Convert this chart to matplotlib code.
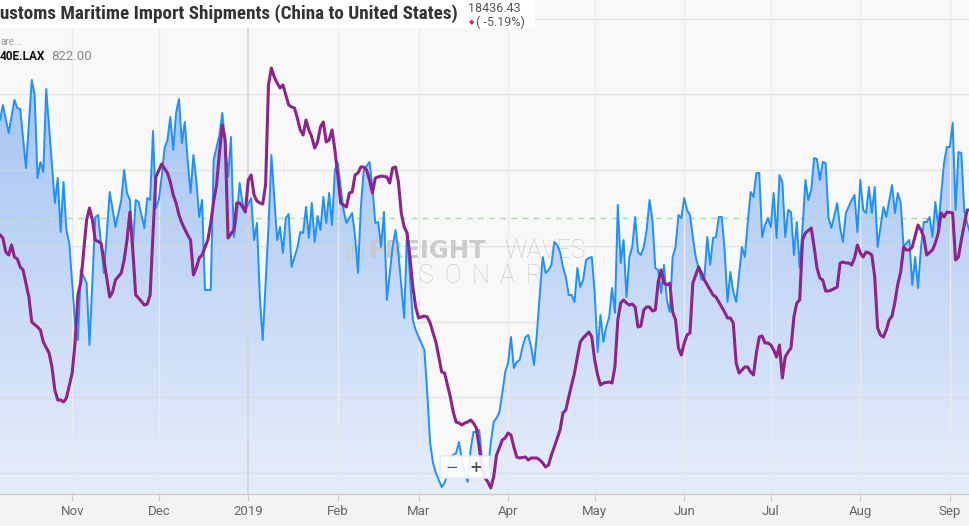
import numpy as np
import pandas as pd
import matplotlib
matplotlib.use("Agg")
import matplotlib.pyplot as plt
import matplotlib.dates as mdates
from matplotlib.colors import to_rgba
from matplotlib.patches import Rectangle, FancyBboxPatch

# dias contados desde el 7 de octubre de 2018
inicio = pd.Timestamp("2018-10-07")

# envios maritimos China -> EEUU (serie azul, diaria)
azul_dias = [
    0, 1, 3, 5, 6, 7, 9, 11, 12, 13,
    14, 15, 16, 17, 19, 20, 21, 22, 23, 24,
    26, 27, 28, 30, 31, 33, 34, 36, 38, 40,
    42, 43, 44, 45, 46, 47, 48, 50, 51, 52,
    53, 54, 55, 56, 57, 58, 59, 60, 61, 62,
    63, 64, 65, 66, 67, 68, 69, 70, 71, 73,
    74, 76, 77, 78, 79, 80, 81, 82, 83, 84,
    85, 87, 88, 89, 90, 91, 93, 94, 96, 97,
    98, 99, 100, 101, 102, 103, 104, 105, 106, 107,
    108, 109, 110, 111, 112, 113, 114, 115, 116, 117,
    118, 119, 120, 122, 123, 124, 125, 126, 128, 129,
    130, 131, 132, 133, 134, 136, 137, 138, 140, 141,
    143, 144, 145, 147, 148, 149, 150, 151, 153, 154,
    155, 156, 157, 158, 159, 160, 161, 162, 163, 164,
    165, 166, 167, 168, 169, 170, 171, 172, 173, 174,
    175, 176, 177, 178, 179, 180, 181, 182, 183, 184,
    185, 186, 187, 188, 189, 190, 191, 192, 193, 194,
    195, 196, 197, 198, 199, 200, 201, 202, 203, 204,
    205, 206, 207, 208, 209, 210, 211, 212, 213, 214,
    215, 216, 217, 218, 219, 220, 221, 222, 223, 224,
    225, 226, 227, 228, 229, 230, 231, 232, 233, 234,
    235, 236, 237, 238, 239, 240, 241, 242, 243, 244,
    245, 246, 247, 248, 249, 250, 251, 252, 253, 254,
    255, 257, 258, 259, 260, 261, 262, 263, 264, 265,
    266, 267, 268, 269, 270, 271, 272, 273, 274, 275,
    276, 277, 278, 279, 280, 281, 282, 283, 284, 285,
    286, 287, 288, 290, 291, 292, 293, 295, 296, 297,
    298, 299, 300, 301, 302, 303, 304, 306, 307, 309,
    310, 311, 312, 313, 314, 315, 316, 317, 318, 319,
    320, 321, 322, 323, 324, 325, 327, 328, 329, 330,
    331, 332, 333, 334, 335, 336,
]
azul_valores = [
    22960, 23560, 22440, 23760, 23440, 23400, 21040, 24560, 23960, 20640,
    21280, 20880, 24200, 22680, 19640, 20640, 18480, 20480, 18560, 18040,
    14840, 14160, 16960, 16440, 13960, 19080, 19160, 16840, 20080, 18680,
    19760, 20960, 20040, 19760, 17880, 19760, 19680, 18640, 19840, 19760,
    22520, 19440, 19760, 20680, 21840, 22160, 23080, 21760, 23240, 23800,
    22040, 22880, 21360, 20040, 21560, 20560, 19080, 19760, 16160, 16160,
    21360, 22360, 23240, 22040, 20680, 22280, 18280, 19080, 20440, 19640,
    19360, 19840, 18160, 18840, 15880, 14160, 18680, 21560, 18160, 18680,
    17640, 19040, 19200, 17080, 17480, 17840, 18480, 18440, 19480, 18240,
    19640, 18080, 19120, 18560, 19880, 18840, 20040, 18760, 20960, 21240,
    20280, 19360, 18840, 19240, 18280, 16840, 19480, 20960, 21280, 20280,
    18840, 18880, 17880, 19280, 15760, 17880, 18560, 17640, 15040, 18480,
    14960, 14560, 14280, 13760, 12040, 10040, 9240, 8840, 8280, 8440,
    8840, 9480, 9560, 9640, 10080, 9360, 8840, 8480, 9760, 10480,
    10480, 10560, 9360, 8840, 8960, 10040, 10880, 11040, 11280, 12040,
    12880, 13240, 14280, 13040, 13280, 13360, 13880, 14280, 14360, 13880,
    13160, 14440, 16040, 17480, 16840, 16960, 17160, 18080, 17960, 17680,
    17080, 16680, 15960, 15960, 15680, 17040, 16280, 16560, 17360, 17440,
    17480, 16040, 13680, 15160, 14080, 14680, 15080, 16240, 15240, 19560,
    17240, 18160, 15880, 17480, 17880, 19080, 17680, 17560, 17880, 18560,
    19760, 18960, 17040, 16960, 16040, 17160, 15760, 15280, 17480, 17880,
    19160, 19040, 19840, 19360, 19160, 18280, 17480, 17040, 16560, 16680,
    18280, 17160, 18240, 18280, 19080, 19080, 17760, 15680, 16880, 16080,
    15680, 17880, 17480, 18840, 20080, 19880, 20840, 20840, 18280, 18760,
    19040, 18680, 20040, 18240, 20760, 20480, 18280, 19360, 19280, 17560,
    18880, 17040, 18680, 20560, 19760, 20160, 21440, 21400, 20560, 21280,
    21240, 19040, 18640, 19640, 18640, 18080, 19240, 19760, 19960, 18480,
    20560, 19360, 19240, 20280, 19240, 20280, 17880, 19480, 19080, 20360,
    19240, 20040, 19640, 17880, 18040, 18160, 16360, 17480, 16240, 17840,
    18880, 18880, 19080, 18280, 19680, 18680, 21240, 21880, 21880, 22840,
    19360, 21680, 21640, 19360, 18840, 18440,
]

# indice 40E.LAX (serie morada)
morado_dias = [
    0, 1, 2, 3, 4, 5, 6, 7, 8, 10,
    11, 13, 14, 15, 17, 18, 19, 20, 21, 22,
    23, 25, 26, 27, 28, 30, 31, 32, 33, 35,
    36, 38, 39, 40, 42, 43, 44, 45, 46, 47,
    48, 50, 51, 52, 53, 54, 56, 58, 59, 60,
    61, 62, 63, 65, 66, 67, 68, 69, 70, 72,
    73, 74, 75, 76, 77, 78, 79, 81, 82, 83,
    84, 85, 86, 87, 88, 89, 90, 91, 92, 93,
    94, 95, 96, 97, 98, 100, 101, 102, 103, 104,
    105, 106, 107, 108, 109, 110, 111, 112, 113, 114,
    115, 116, 117, 118, 119, 120, 121, 122, 123, 124,
    125, 126, 127, 128, 129, 130, 132, 134, 135, 136,
    137, 138, 139, 140, 141, 142, 143, 144, 145, 146,
    147, 148, 149, 150, 151, 152, 153, 154, 155, 156,
    157, 158, 159, 160, 161, 162, 163, 164, 165, 166,
    167, 168, 169, 170, 171, 172, 174, 175, 176, 177,
    178, 179, 180, 182, 183, 184, 186, 187, 188, 189,
    190, 191, 192, 194, 195, 196, 197, 198, 199, 200,
    201, 202, 203, 204, 205, 206, 207, 208, 209, 211,
    212, 213, 214, 215, 216, 217, 218, 219, 220, 221,
    222, 223, 224, 225, 226, 227, 228, 229, 230, 231,
    232, 233, 234, 235, 236, 237, 238, 239, 240, 241,
    242, 243, 244, 245, 246, 247, 248, 249, 251, 252,
    253, 254, 255, 256, 258, 259, 260, 261, 262, 263,
    264, 265, 266, 267, 268, 269, 270, 271, 272, 273,
    274, 275, 276, 277, 278, 279, 281, 282, 283, 284,
    285, 286, 287, 288, 290, 291, 292, 293, 294, 295,
    296, 297, 298, 299, 300, 301, 302, 303, 304, 305,
    306, 307, 308, 309, 310, 311, 312, 313, 314, 315,
    316, 318, 319, 320, 321, 323, 324, 325, 326, 327,
    328, 330, 331, 332, 333, 335, 336,
]
morado_valores = [
    797, 794, 780, 777, 787, 775, 773, 765, 762, 735,
    710, 705, 702, 690, 679, 665, 642, 632, 632, 630,
    634, 659, 689, 737, 750, 812, 824, 812, 792, 789,
    772, 735, 740, 752, 759, 772, 792, 820, 782, 737,
    734, 727, 728, 737, 799, 855, 868, 859, 850, 837,
    829, 817, 809, 797, 792, 757, 764, 774, 777, 792,
    809, 830, 847, 879, 907, 892, 794, 802, 829, 829,
    825, 820, 852, 857, 837, 831, 829, 828, 847, 947,
    964, 955, 949, 944, 947, 927, 925, 924, 914, 902,
    897, 912, 902, 895, 884, 890, 905, 910, 890, 892,
    902, 882, 857, 829, 827, 825, 839, 840, 857, 859,
    865, 865, 862, 852, 839, 854, 856, 855, 849, 864,
    865, 850, 819, 805, 799, 775, 745, 725, 714, 715,
    716, 715, 709, 699, 690, 675, 660, 659, 647, 635,
    620, 610, 609, 607, 609, 610, 612, 609, 604, 585,
    562, 554, 550, 544, 555, 577, 592, 594, 599, 597,
    585, 575, 574, 575, 572, 574, 574, 572, 569, 565,
    567, 577, 585, 602, 619, 622, 635, 647, 659, 675,
    690, 694, 697, 700, 695, 672, 657, 647, 649, 650,
    649, 665, 712, 729, 732, 729, 727, 728, 725, 705,
    706, 722, 725, 725, 721, 722, 750, 762, 749, 747,
    749, 720, 712, 684, 677, 689, 697, 699, 749, 757,
    765, 759, 752, 747, 742, 737, 735, 730, 720, 714,
    714, 709, 669, 659, 665, 665, 660, 657, 679, 695,
    696, 689, 689, 687, 682, 675, 687, 654, 675, 680,
    684, 715, 729, 732, 792, 799, 804, 785, 764, 754,
    752, 741, 741, 742, 745, 769, 770, 769, 769, 767,
    774, 787, 779, 775, 780, 779, 777, 755, 704, 697,
    695, 702, 712, 716, 730, 748, 760, 785, 782, 782,
    785, 807, 802, 795, 777, 782, 789, 799, 819, 815,
    820, 819, 772, 775, 792, 822, 822,
]

nivel_medio = 19050  # linea discontinua verde
meses = ["2018-11-01", "2018-12-01", "2019-01-01", "2019-02-01", "2019-03-01", "2019-04-01",
         "2019-05-01", "2019-06-01", "2019-07-01", "2019-08-01", "2019-09-01"]
etiquetas_meses = ["Nov", "Dec", "2019", "Feb", "Mar", "Apr", "May", "Jun", "Jul", "Aug", "Sep"]

assert len(azul_dias) == len(azul_valores)
assert len(morado_dias) == len(morado_valores)

W, H = 970, 526
def fx(x):
    return x / W
def fy(y):
    return 1 - y / H

bx = mdates.date2num(inicio + pd.to_timedelta(azul_dias, unit="D"))
mx = mdates.date2num(inicio + pd.to_timedelta(morado_dias, unit="D"))
x0 = mdates.date2num(inicio)
x1 = mdates.date2num(inicio + pd.Timedelta(days=336))
ylo, yhi = 8000, 27760

fig = plt.figure(figsize=(W / 100, H / 100), dpi=100, facecolor="#f3f3f3")
ax = fig.add_axes([0, 32 / H, 1, 494 / H])
ax.set_facecolor("#f8f8f8")
ax2 = ax.twinx()

# relleno con degradado bajo la serie azul
g = np.linspace(0, 1, 256)[:, None, None]
arriba = np.array(to_rgba("#98bbf2"))
abajo = np.array(to_rgba("#e6eefa"))
degradado = arriba * (1 - g) + abajo * g
im = ax.imshow(degradado, extent=[x0, x1, ylo, yhi], origin="upper", aspect="auto", zorder=1)
poly = ax.fill_between(bx, azul_valores, ylo, facecolor="none", edgecolor="none")
im.set_clip_path(poly.get_paths()[0], transform=ax.transData)

# rejilla
for v in np.arange(8840, 27100, 3030):
    ax.axhline(v, color="#d8d8d8", lw=1, alpha=0.6, zorder=2)
mes_nums = mdates.date2num(pd.to_datetime(meses))
for m, lab in zip(mes_nums, etiquetas_meses):
    ax.axvline(m, color="#d6d6d6" if lab == "2019" else "#ebebeb", lw=1.2 if lab == "2019" else 1, zorder=2)
ax.axhline(nivel_medio, color="#a9dca9", lw=1, ls=(0, (4, 4)), zorder=3)

ax.plot(bx, azul_valores, color="#1e90ff", lw=1.4, zorder=5)
ax2.plot(mx, morado_valores, color="#8e2389", lw=2.2, zorder=5)

ax.set_xlim(x0, x1)
ax.set_ylim(ylo, yhi)
ax2.set_ylim(538, 1032)
ax.set_yticks([])
ax2.set_yticks([])
ax.set_xticks(mes_nums)
ax.set_xticklabels(etiquetas_meses, family="Roboto")
ax.tick_params(axis="x", direction="out", length=5, color="#cccccc", labelcolor="#666666",
               labelsize=9.5, pad=3)
for a in (ax, ax2):
    for s in ("top", "left", "right"):
        a.spines[s].set_visible(False)
    a.spines["bottom"].set_color("#cccccc")

# marca de agua
wm = dict(color="#c8c8c8", alpha=0.9, zorder=4, transform=fig.transFigure, va="baseline")
ax.text(fx(345), fy(258), "||||", fontsize=11, family="DejaVu Sans", **wm)
ax.text(fx(369), fy(258), "FREIGHT", fontsize=17.5, family="DejaVu Sans", fontweight="heavy", **wm)
ax.text(fx(504), fy(258), "WAVES", fontsize=18, family=["Roboto", "DejaVu Sans"], fontweight="light", **wm)
for i, letra in enumerate("SONAR"):
    ax.text(fx(426 + i * 27), fy(283), letra, fontsize=18, family=["Roboto", "DejaVu Sans"],
            fontweight="light", ha="center", **wm)

# control de zoom
fig.add_artist(FancyBboxPatch((fx(442), fy(477)), fx(46), 20 / H, boxstyle="round,pad=0.002",
                              transform=fig.transFigure, facecolor="white", edgecolor="#e6e6e6",
                              alpha=0.9, zorder=10))
fig.text(fx(452), fy(467), "\u2212", fontsize=11, color="#555555", ha="center", va="center", zorder=11)
fig.text(fx(476), fy(467), "+", fontsize=11, color="#555555", ha="center", va="center",
         fontweight="bold", zorder=11)

# cabecera
fig.add_artist(Rectangle((0, fy(28)), fx(535), 28 / H, transform=fig.transFigure,
                         facecolor="white", edgecolor="none", zorder=10))
titulo = "Customs Maritime Import Shipments (China to United States)"
fuente_titulo = dict(family=["Roboto Condensed", "Liberation Sans Narrow", "DejaVu Sans"],
                     fontweight="bold", fontstretch="condensed")
r = fig.canvas.get_renderer()
t = fig.text(0, fy(14), titulo, fontsize=14, color="#333333", va="center", zorder=11, **fuente_titulo)
c = fig.text(0, 0, "C", fontsize=14, **fuente_titulo)
w_todo = t.get_window_extent(r).width
w_c = c.get_window_extent(r).width
esc = 462 / (w_todo - w_c)
t.set_fontsize(14 * esc)
c.set_fontsize(14 * esc)
w_c = c.get_window_extent(r).width
c.remove()
t.set_x(-w_c / W)

fig.text(fx(468), fy(9), "18436.43", fontsize=9, color="#555555", va="center", family="Roboto", zorder=11)
fig.text(fx(469), fy(22), "\u25c6", fontsize=5, color="#e0245e", va="center", family="DejaVu Sans", zorder=11)
fig.text(fx(476), fy(22), "( -5.19%)", fontsize=9, color="#555555", va="center", family="Roboto", zorder=11)
fig.text(fx(0), fy(42), "are...", fontsize=7, color="#999999", va="center", family="Roboto", zorder=11)
fig.text(fx(0), fy(56), "40E.LAX", fontsize=8.5, color="#111111", va="center", family="Roboto",
         fontweight="bold", zorder=11)
fig.text(fx(51), fy(56), "822.00", fontsize=9.5, color="#888888", va="center", family="Roboto", zorder=11)

fig.savefig("out.png", dpi=100, facecolor=fig.get_facecolor())
